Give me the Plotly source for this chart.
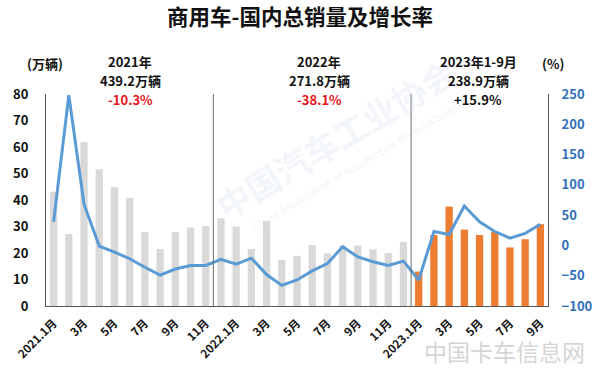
import plotly.graph_objects as go

# ---- data ----
years = ["2021"] * 12 + ["2022"] * 12 + ["2023"] * 9
month_nums = list(range(1, 13)) + list(range(1, 13)) + list(range(1, 10))
sales = [43.1, 27.2, 61.8, 51.6, 44.8, 40.8, 27.9, 21.5, 27.9, 29.6, 30.2, 33.1,
         30.0, 21.5, 32.1, 17.4, 18.9, 23.0, 19.9, 22.8, 22.8, 21.4, 20.0, 24.2,
         13.0, 26.8, 37.5, 28.8, 26.8, 28.1, 22.1, 25.2, 30.9]
growth = [39, 248, 68, -1, -11, -22, -36, -49, -39, -33, -33, -23,
          -31, -21, -48, -66, -57, -42, -30, -2, -19, -27, -33, -26,
          -57, 23, 18, 65, 39, 23, 12, 20, 35]
year_totals = ["439.2万辆", "271.8万辆", "238.9万辆"]
year_titles = ["2021年", "2022年", "2023年1-9月"]
year_growth = ["-10.3%", "-38.1%", "+15.9%"]
left_ticks = [0, 10, 20, 30, 40, 50, 60, 70, 80]
right_ticks = [-100, -50, 0, 50, 100, 150, 200, 250]

x = list(range(len(sales)))
tickvals = [i for i in x if month_nums[i] % 2 == 1]
ticktext = [(f"{years[i]}.1月" if month_nums[i] == 1 else f"{month_nums[i]}月") for i in tickvals]
bar_colors = ["#ED7D31" if y == "2023" else "#D9D9D9" for y in years]

FONT = "Noto Sans CJK SC"
W, H = 600, 369
L, R, T, B = 46, 52, 94, 63
PW, PH = W - L - R, H - T - B


def px(xp):
    return (xp - L) / PW


def py(yp):
    return (H - B - yp) / PH


fig = go.Figure()
fig.add_trace(go.Bar(x=x, y=sales, marker=dict(color=bar_colors, line=dict(width=0)),
                     width=0.48, yaxis="y", showlegend=False))
fig.add_trace(go.Scatter(x=x, y=growth, mode="lines", yaxis="y2",
                         line=dict(color="#5B9BD5", width=3), showlegend=False,
                         cliponaxis=False))

# dividers
for xv in (10.5, 23.5):
    fig.add_shape(type="line", xref="x", yref="y", x0=xv, x1=xv, y0=0, y1=80,
                  line=dict(color="#6b6b6b", width=1))


def A(text, cx, cy, size=13, color="#111", bold=True, angle=0, family=FONT):
    return dict(text=text, x=px(cx), y=py(cy), xref="paper", yref="paper", showarrow=False,
                xanchor="center", yanchor="middle", textangle=angle,
                font=dict(family=family, size=size, color=color,
                          weight="bold" if bold else "normal"))


ann = []
# watermarks (faint)
ann.append(A("中国汽车工业协会", 335, 138, size=34, color="rgba(200,212,230,0.22)", angle=-31))
ann.append(A("China Association of Automobile Manufacturers", 356, 165, size=11,
             color="rgba(200,212,230,0.25)", bold=False, angle=-31))
ann.append(A("中国卡车信息网", 504, 351, size=23, color="rgba(205,205,205,0.85)", bold=False))

ann.append(A("(万辆)", 45, 63))
ann.append(A("(%)", 553, 63))
for cx, t, tot, g in zip((130, 319, 478), year_titles, year_totals, year_growth):
    gc = "#E8141C" if g.startswith("-") else "#111"
    ann.append(A(t, cx, 61.5))
    ann.append(A(tot, cx, 80.5))
    ann.append(A(g, cx, 99.5, color=gc))

fig.update_layout(
    width=W, height=H,
    margin=dict(l=L, r=R, t=T, b=B),
    paper_bgcolor="white", plot_bgcolor="white",
    title=dict(text="商用车-国内总销量及增长率", x=0.5, xanchor="center", y=1 - 17 / H,
               yanchor="middle", font=dict(family=FONT, size=21.5, color="#111", weight="bold")),
    xaxis=dict(range=[-0.5, len(x) - 0.5], tickvals=tickvals, ticktext=ticktext, tickangle=-45,
               showgrid=False, zeroline=False, showline=True, linecolor="#555", linewidth=1,
               ticks="", automargin=False, ticklabelstandoff=5,
               tickfont=dict(family=FONT, size=11.5, color="#111", weight="bold")),
    yaxis=dict(range=[0, 80], tickvals=left_ticks, showgrid=False, zeroline=False,
               showline=True, linecolor="#555", linewidth=1, ticks="", ticklabelstandoff=14,
               automargin=False,
               tickfont=dict(family=FONT, size=13, color="#111", weight="bold")),
    yaxis2=dict(range=[-100, 250], tickvals=right_ticks, overlaying="y", side="right",
                showgrid=False, zeroline=False, showline=True, linecolor="#555", linewidth=1,
                ticks="", ticklabelstandoff=10, automargin=False,
                tickfont=dict(family=FONT, size=13, color="#2F6EBA", weight="bold")),
    annotations=ann,
    bargap=0.5,
)

fig.write_html("out.html", config={"displayModeBar": False},
               post_script="document.body.style.margin='0';document.body.style.overflow='hidden';")
